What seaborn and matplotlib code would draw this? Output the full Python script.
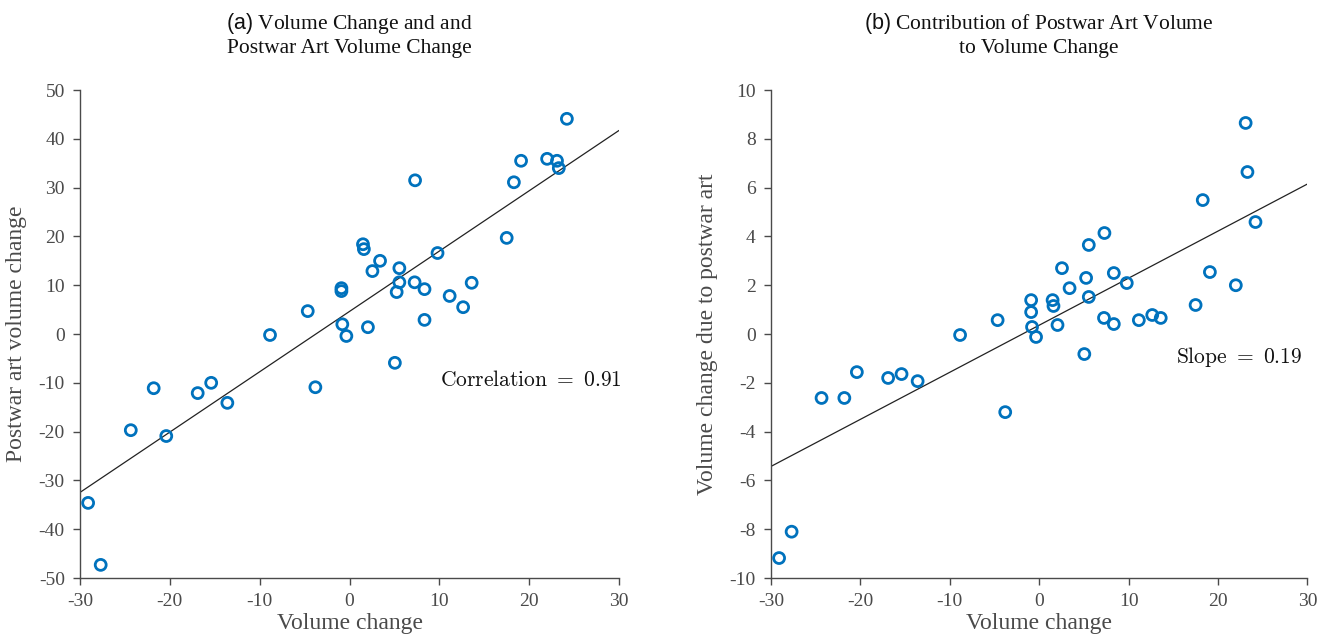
import numpy as np
import pandas as pd
import matplotlib
matplotlib.use("Agg")
import matplotlib.pyplot as plt
import seaborn as sns

# ---- data ----
volume_change = [-29.1, -27.7, -24.35, -21.8, -20.4, -16.9, -15.4, -13.6, -8.85, -4.65, -3.8,
                 -0.9, -0.9, -0.8, -0.35,
                 1.5, 1.6, 2.05, 2.55, 3.4, 5.05, 5.25, 5.55, 5.55, 7.25, 7.3, 8.35, 8.35,
                 9.8, 11.15, 12.65, 13.6, 17.5, 18.3, 19.1, 22.0, 23.1, 23.3, 24.2]
postwar_change = [-34.6, -47.3, -19.7, -11.1, -20.9, -12.1, -10.0, -14.1, -0.2, 4.7, -10.9,
                  9.4, 8.8, 2.0, -0.4,
                  18.4, 17.4, 1.4, 12.9, 15.0, -5.9, 8.6, 13.5, 10.6, 10.6, 31.5, 9.2, 2.9,
                  16.6, 7.8, 5.5, 10.5, 19.7, 31.1, 35.5, 35.9, 35.5, 34.0, 44.1]
postwar_contrib = [-9.18, -8.1, -2.62, -2.62, -1.56, -1.8, -1.64, -1.93, -0.04, 0.57, -3.2,
                   1.39, 0.9, 0.29, -0.12,
                   1.39, 1.15, 0.37, 2.7, 1.88, -0.82, 2.3, 3.65, 1.52, 0.66, 4.14, 2.5, 0.41,
                   2.09, 0.57, 0.78, 0.66, 1.19, 5.49, 2.54, 2.0, 8.65, 6.64, 4.59]

x_ticks = [-30, -20, -10, 0, 10, 20, 30]
ya_ticks = [-50, -40, -30, -20, -10, 0, 10, 20, 30, 40, 50]
yb_ticks = [-10, -8, -6, -4, -2, 0, 2, 4, 6, 8, 10]

df = pd.DataFrame({"vol": volume_change, "post": postwar_change, "contrib": postwar_contrib})

sns.set_theme(style="ticks")
plt.rcParams["font.family"] = ["Liberation Serif", "DejaVu Serif"]
plt.rcParams["mathtext.fontset"] = "custom"
plt.rcParams["mathtext.sf"] = "Liberation Sans"
plt.rcParams["mathtext.rm"] = "Liberation Serif"

GRAY = "#4a4a4a"
BLUE = "#0072BD"

fig = plt.figure(figsize=(13.34, 6.43), dpi=100)
ax1 = fig.add_axes([0.060, 0.101, 0.404, 0.759])
ax2 = fig.add_axes([0.578, 0.101, 0.402, 0.759])

panels = [
    (ax1, "post", ya_ticks, r"$\mathsf{(a)}$ Volume Change and and" + "\nPostwar Art Volume Change",
     "Postwar art volume change", r"$\mathrm{Correlation}\ =\ 0.91$", (10.1, -9.6)),
    (ax2, "contrib", yb_ticks, r"$\mathsf{(b)}$ Contribution of Postwar Art Volume" + "\nto Volume Change",
     "Volume change due to postwar art", r"$\mathrm{Slope}\ =\ 0.19$", (15.3, -0.95)),
]

for ax, ycol, yt, title, ylabel, note, notepos in panels:
    ax.set_xlim(-30, 30)
    ax.set_ylim(yt[0], yt[-1])
    sns.regplot(data=df, x="vol", y=ycol, ax=ax, ci=None, truncate=False, scatter=False,
                line_kws=dict(color="#222222", lw=0.9))
    sns.scatterplot(data=df, x="vol", y=ycol, ax=ax, marker="o", s=62,
                    facecolor="none", edgecolor=BLUE, linewidth=2.0, zorder=3)
    ax.set_xlim(-30, 30)
    ax.set_ylim(yt[0], yt[-1])
    ax.set_xticks(x_ticks)
    ax.set_yticks(yt)
    ax.set_xticklabels([str(v) for v in x_ticks])
    ax.set_yticklabels([str(v) for v in yt])
    ax.tick_params(axis="both", direction="out", length=5, width=1.0, colors=GRAY,
                   labelsize=14, pad=6)
    for s in ["top", "right"]:
        ax.spines[s].set_visible(False)
    for s in ["left", "bottom"]:
        ax.spines[s].set_color(GRAY)
        ax.spines[s].set_linewidth(1.0)
    ax.set_xlabel("Volume change", fontsize=17, color=GRAY, labelpad=2)
    ax.set_ylabel(ylabel, fontsize=17, color=GRAY, labelpad=8)
    ax.set_title(title, fontsize=15.5, color="#111111", pad=27, linespacing=1.15)
    ax.text(notepos[0], notepos[1], note, fontsize=15.5, color="#111111",
            math_fontfamily="cm", va="center", ha="left")

fig.savefig("out.png", dpi=100)
